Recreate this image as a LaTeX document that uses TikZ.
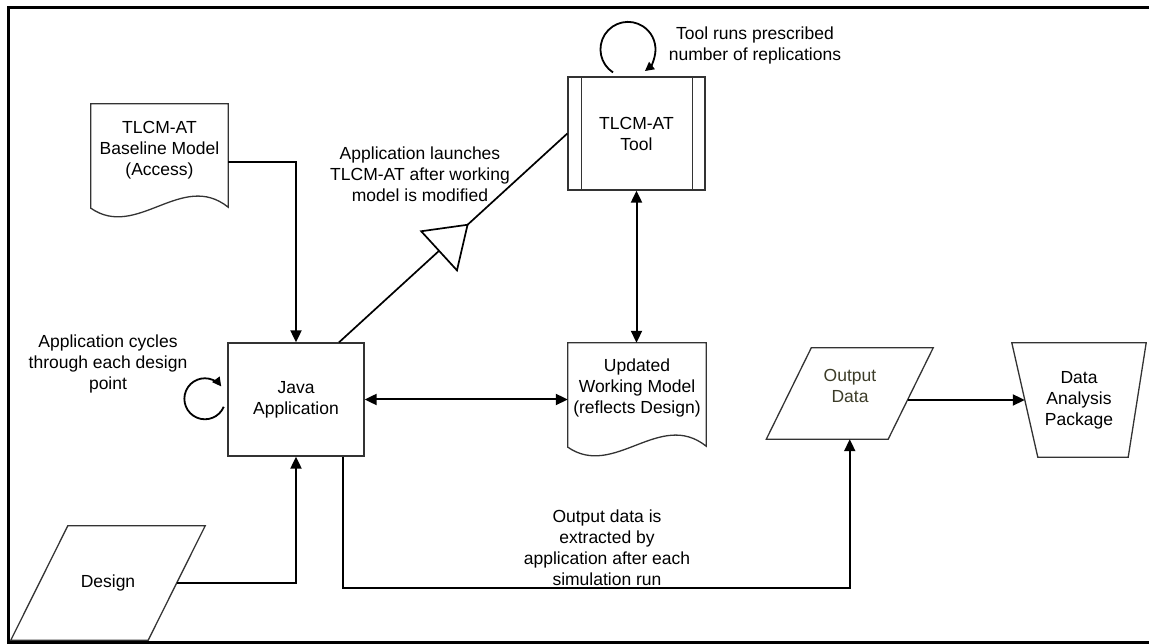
\documentclass[tikz,border=0pt]{standalone}
\usepackage{fontspec}
\setmainfont{Liberation Sans}
\usetikzlibrary{arrows.meta,calc}
\definecolor{outtxt}{RGB}{60,60,40}
\newcommand\docoutline[1]{\draw[shapeline] ([yshift=1pt]#1.south east) -- (#1.north east) -- (#1.north west) -- (#1.south west) .. controls ($(#1.south west)!0.336!(#1.south east)+(0,-32)$) and ($(#1.south west)!0.664!(#1.south east)+(0,38)$) .. ([yshift=1pt]#1.south east) -- cycle;}
\newcommand\paraoutline[2]{\draw[shapeline] ([xshift=#2pt]#1.north west) -- ([xshift=#2pt]#1.north east) -- ([xshift=-#2pt]#1.south east) -- ([xshift=-#2pt]#1.south west) -- cycle;}
\begin{document}
\begin{tikzpicture}[x=1pt,y=1pt,
  txt/.style={font=\fontsize{17.5}{21}\selectfont, align=center, inner sep=0pt},
  shapeline/.style={draw=black!80, line width=1.3pt},
  area/.style={inner sep=0pt, minimum width=#1},
  conn/.style={line width=2pt, -{Triangle[length=12pt,width=11pt]}},
  bconn/.style={line width=2pt, {Triangle[length=12pt,width=11pt]}-{Triangle[length=12pt,width=11pt]}},
  loopline/.style={line width=1.8pt, -{Triangle[length=9pt,width=9pt]}}]
\useasboundingbox (0,0) rectangle (1149,644);
% frame
\draw[line width=3.5pt] (1149,636.5) -- (8.5,636.5) -- (8.5,0);
\draw[line width=2.5pt] (8.5,1.25) -- (1149,1.25);

% Java application
\node[txt, shapeline, minimum width=136pt, minimum height=113pt] (java) at (296,244.5) {Java\\Application};
% TLCM-AT tool
\node[txt, shapeline, minimum width=137pt, minimum height=113pt] (tool) at (636.5,510.5) {TLCM-AT\\Tool};
\draw[shapeline] ([xshift=14pt]tool.north west) -- ([xshift=14pt]tool.south west);
\draw[shapeline] ([xshift=-13pt]tool.north east) -- ([xshift=-13pt]tool.south east);

% Baseline model document
\node[area=137pt, minimum height=104pt] (base) at (159.5,488) {};
\docoutline{base}
\node[txt] (baseT) at (159.5,494) {TLCM-AT\\Baseline Model\\(Access)};

% Updated working model document
\node[area=138pt, minimum height=104pt] (upd) at (637,249) {};
\docoutline{upd}
\node[txt] (updT) at (637,256) {Updated\\Working Model\\(reflects Design)};

% Design
\node[txt, area=137pt, minimum height=114pt] (design) at (108,61) {Design};
\paraoutline{design}{28.5}

% Output data
\node[area=121.5pt, minimum height=91pt] (out) at (849.75,250.5) {};
\paraoutline{out}{22.5}
\node[txt, text=outtxt] (outT) at (850,258.5) {Output\\Data};

% Data analysis package
\node[txt, area=134pt, minimum height=114pt] (dap) at (1079,244) {Data\\Analysis\\Package};
\draw[shapeline] (dap.north west) -- (dap.north east) -- ([xshift=-18pt]dap.south east) -- ([xshift=26pt]dap.south west) -- cycle;

% connectors
\draw[conn] ([yshift=-6pt]base.east) -| (java.north);
\draw[conn] (design.east) -| (java.south);
\draw[bconn] (java.east) -- (java.east -| upd.west);
\draw[bconn] (tool.south) -- (tool.south |- upd.north);
\draw[conn] ([xshift=47pt]java.south) -- ++(0,-131) -| (out.south);
\draw[conn] ([xshift=-3pt,yshift=-6.5pt]out.east) -- ([xshift=13pt]dap.west);

% launch line with open triangle
\coordinate (lA) at ([xshift=43pt]java.north);
\draw[line width=1.7pt] (lA) -- (tool.west);
\coordinate (tip) at ($(lA)!0.563!(tool.west)$);
\coordinate (bm) at ($(tip)!38.6pt!(lA)$);
\coordinate (c1) at ($(bm)!26.5pt!90:(tip)$);
\coordinate (c2) at ($(bm)!26.5pt!-90:(tip)$);
\filldraw[line width=1.7pt, fill=white, line join=miter] (tip) -- (c1) -- (c2) -- cycle;

% self loops
\draw[loopline] ([shift={(-3.6,-7.3)}]java.west) arc[start angle=-23, end angle=-323, radius=20.5];
\draw[loopline] ([shift={(-23.5,3.9)}]tool.north) arc[start angle=237, end angle=-52, radius=27.5];

% labels
\node[txt] (lblTool) at (755,599) {Tool runs prescribed\\number of replications};
\node[txt] (lblLaunch) at (420,470) {Application launches\\TLCM-AT after working\\model is modified};
\node[txt] (lblCycle) at (108,280) {Application cycles\\through each design\\point};
\node[txt] (lblOut) at (607,96.5) {Output data is\\extracted by\\application after each\\simulation run};
\end{tikzpicture}
\end{document}
